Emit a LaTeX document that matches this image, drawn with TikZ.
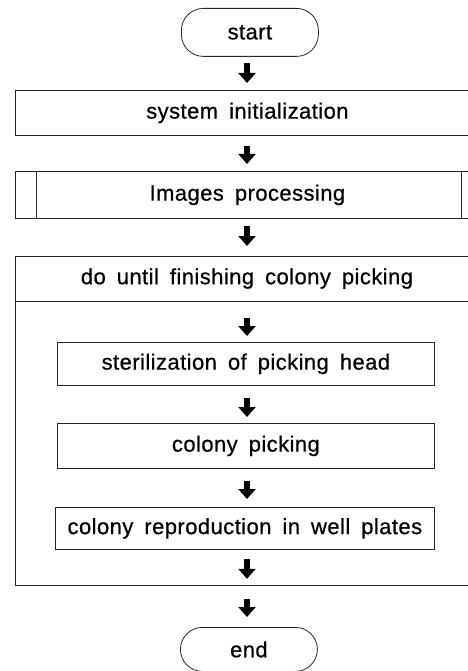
\documentclass[tikz,border=0pt]{standalone}
\usepackage{fontspec}
\setmainfont{Liberation Sans}[LetterSpace=2, FakeBold=0.6]
\usetikzlibrary{arrows.meta}
\newcommand{\boxfont}{\fontsize{22}{26}\selectfont\spaceskip=11pt plus 1pt\relax}
\begin{document}
\begin{tikzpicture}[x=1pt,y=-1pt,
  txt/.style={font=\boxfont, text=black},
  box/.style={draw=black!85, line width=0.8pt, inner sep=0pt, anchor=north west, txt},
  term/.style={box, rounded corners=22pt},
  flow/.style={line width=5.5pt, black, -{Triangle[width=17pt,length=10pt]}}
]
\useasboundingbox (0,0) rectangle (467,671);
\fill[white] (0,0) rectangle (467,671);
\coordinate (ax) at (247,0);
% nodes
\node[term, minimum width=137pt, minimum height=48pt] (start) at (181,8) {start};
\node[box, minimum width=464pt, minimum height=45pt] (sys) at (15,90) {system initialization};
\node[box, minimum width=464pt, minimum height=47pt] (img) at (15,171) {Images processing};
\draw[draw=black!85, line width=0.8pt] (img.north west) ++(21,0) -- ++(0,47);
\draw[draw=black!85, line width=0.8pt] (img.north east) ++(-18,0) -- ++(0,47);
\node[box, minimum width=464pt, minimum height=329pt] (loop) at (15,256) {};
\coordinate (hdrl) at (15,301);
\coordinate (hdrr) at (479,301);
\draw[draw=black!85, line width=0.8pt] (hdrl) -- (hdrr);
\node[txt] (looptitle) at (247,278.5) {do until finishing colony picking};
\node[box, minimum width=377pt, minimum height=43pt] (ster) at (57,342) {sterilization of picking head};
\node[box, minimum width=377pt, minimum height=45pt] (pick) at (57,423) {colony picking};
\node[box, minimum width=379pt, minimum height=42pt] (repro) at (55,507) {colony reproduction in well plates};
\node[term, minimum width=137pt, minimum height=44pt] (end) at (180,627) {end};
% arrows
\draw[flow, shorten <=6pt, shorten >=7pt] (start.south -| ax) -- (sys.north -| ax);
\draw[flow, shorten <=10pt, shorten >=7pt] (sys.south -| ax) -- (img.north -| ax);
\draw[flow, shorten <=7pt, shorten >=10pt] (img.south -| ax) -- (loop.north -| ax);
\draw[flow, shorten <=17pt, shorten >=6pt] (hdrl -| ax) -- (ster.north -| ax);
\draw[flow, shorten <=12pt, shorten >=6pt] (ster.south -| ax) -- (pick.north -| ax);
\draw[flow, shorten <=12pt, shorten >=8pt] (pick.south -| ax) -- (repro.north -| ax);
\draw[flow, shorten <=9pt, shorten >=7pt] (repro.south -| ax) -- (loop.south -| ax);
\draw[flow, shorten <=13pt, shorten >=10pt] (loop.south -| ax) -- (end.north -| ax);
\end{tikzpicture}
\end{document}
